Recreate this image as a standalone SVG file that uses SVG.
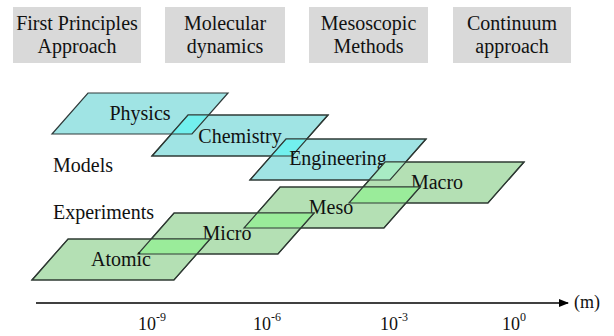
<svg xmlns="http://www.w3.org/2000/svg" width="614" height="336" viewBox="0 0 614 336">
<defs>
<style>
text{fill:#111;}
.hdr rect{fill:#d9d9d9;}
.hdr text{font-size:20px;text-anchor:middle;}
.lbl{font-size:20px;text-anchor:middle;}
.side{font-size:20px;}
.cy{fill:#a0e4e4;stroke:#2f3a3a;stroke-width:1.2;}
.gr{fill:#b4e0b4;stroke:#2f3a2f;stroke-width:1.2;}
.ovc{fill:#72f0ee;stroke:none;}
.ovg{fill:#9aec9a;stroke:none;}
.ovm{fill:#a8ecc4;stroke:none;}
.ol{fill:none;stroke:#2f3a35;stroke-width:1.2;}
.tick{font-size:18px;}
.sup{font-size:12px;}
</style>
<polygon id="pPhys" points="88,93 228,93 192,134 52,134"/>
<polygon id="pChem" points="188,115 328,115 292,156 152,156"/>
<polygon id="pEng" points="286,139 426,139 390,180 250,180"/>
<polygon id="pMacro" points="385,162 524,162 488,203 349,203"/>
<polygon id="pMeso" points="280,187 420,187 384,228 244,228"/>
<polygon id="pMicro" points="174,213 314,213 278,254 138,254"/>
<polygon id="pAtom" points="68,239 210,239 174,280 32,280"/>
<clipPath id="cPhys"><use href="#pPhys"/></clipPath>
<clipPath id="cChem"><use href="#pChem"/></clipPath>
<clipPath id="cEng"><use href="#pEng"/></clipPath>
<clipPath id="cMacro"><use href="#pMacro"/></clipPath>
<clipPath id="cMeso"><use href="#pMeso"/></clipPath>
<clipPath id="cMicro"><use href="#pMicro"/></clipPath>
<clipPath id="cAtom"><use href="#pAtom"/></clipPath>
<marker id="arr" markerWidth="10" markerHeight="8" refX="9" refY="4" orient="auto" markerUnits="userSpaceOnUse">
<path d="M0,0 L10,4 L0,8 Z" fill="#000"/>
</marker>
</defs>
<rect width="614" height="336" fill="#fff"/>

<g id="all" style="font-family:'Liberation Serif',serif">
<g id="hdr-first" class="hdr">
<rect x="13" y="7" width="128" height="56"/>
<text x="77" y="30">First Principles</text>
<text x="77" y="53">Approach</text>
</g>
<g id="hdr-md" class="hdr">
<rect x="165" y="7" width="120" height="56"/>
<text x="225" y="30">Molecular</text>
<text x="225" y="53">dynamics</text>
</g>
<g id="hdr-meso" class="hdr">
<rect x="309" y="7" width="119" height="56"/>
<text x="368.5" y="30">Mesoscopic</text>
<text x="368.5" y="53">Methods</text>
</g>
<g id="hdr-cont" class="hdr">
<rect x="453" y="7" width="118" height="56"/>
<text x="512" y="30">Continuum</text>
<text x="512" y="53">approach</text>
</g>

<g id="physics">
<use href="#pPhys" class="cy"/>
<text class="lbl" x="140" y="120">Physics</text>
</g>
<g id="chemistry">
<use href="#pChem" class="cy"/>
<use href="#pChem" class="ovc" clip-path="url(#cPhys)"/>
<use href="#pPhys" class="ol" clip-path="url(#cChem)"/>
<use href="#pChem" class="ol"/>
<text class="lbl" x="240" y="143">Chemistry</text>
</g>
<g id="engineering">
<use href="#pEng" class="cy"/>
<use href="#pEng" class="ovc" clip-path="url(#cChem)"/>
<use href="#pChem" class="ol" clip-path="url(#cEng)"/>
<use href="#pEng" class="ol"/>
<text class="lbl" x="338" y="165">Engineering</text>
</g>

<g id="macro">
<use href="#pMacro" class="gr"/>
<use href="#pMacro" class="ovm" clip-path="url(#cEng)"/>
<use href="#pEng" class="ol" clip-path="url(#cMacro)"/>
<use href="#pMacro" class="ol"/>
<text class="lbl" x="437" y="189">Macro</text>
</g>
<g id="meso">
<use href="#pMeso" class="gr"/>
<use href="#pMeso" class="ovg" clip-path="url(#cMacro)"/>
<use href="#pMacro" class="ol" clip-path="url(#cMeso)"/>
<use href="#pMeso" class="ol"/>
<text class="lbl" x="331" y="214">Meso</text>
</g>
<g id="micro">
<use href="#pMicro" class="gr"/>
<use href="#pMicro" class="ovg" clip-path="url(#cMeso)"/>
<use href="#pMeso" class="ol" clip-path="url(#cMicro)"/>
<use href="#pMicro" class="ol"/>
<text class="lbl" x="227" y="240">Micro</text>
</g>
<g id="atomic">
<use href="#pAtom" class="gr"/>
<use href="#pAtom" class="ovg" clip-path="url(#cMicro)"/>
<use href="#pMicro" class="ol" clip-path="url(#cAtom)"/>
<use href="#pAtom" class="ol"/>
<text class="lbl" x="121" y="266">Atomic</text>
</g>

<g id="side-labels">
<text class="side" x="53" y="172">Models</text>
<text class="side" x="53" y="219">Experiments</text>
</g>

<g id="connectors">
<line x1="36" y1="303" x2="568" y2="303" stroke="#000" stroke-width="1.6" marker-end="url(#arr)"/>
</g>

<g id="axis-labels">
<text class="tick" x="574" y="308">(m)</text>
<text class="tick" x="138" y="330">10<tspan class="sup" dy="-9">-9</tspan></text>
<text class="tick" x="253" y="330">10<tspan class="sup" dy="-9">-6</tspan></text>
<text class="tick" x="380" y="330">10<tspan class="sup" dy="-9">-3</tspan></text>
<text class="tick" x="502" y="330">10<tspan class="sup" dy="-9">0</tspan></text>
</g>
</g>
</svg>
